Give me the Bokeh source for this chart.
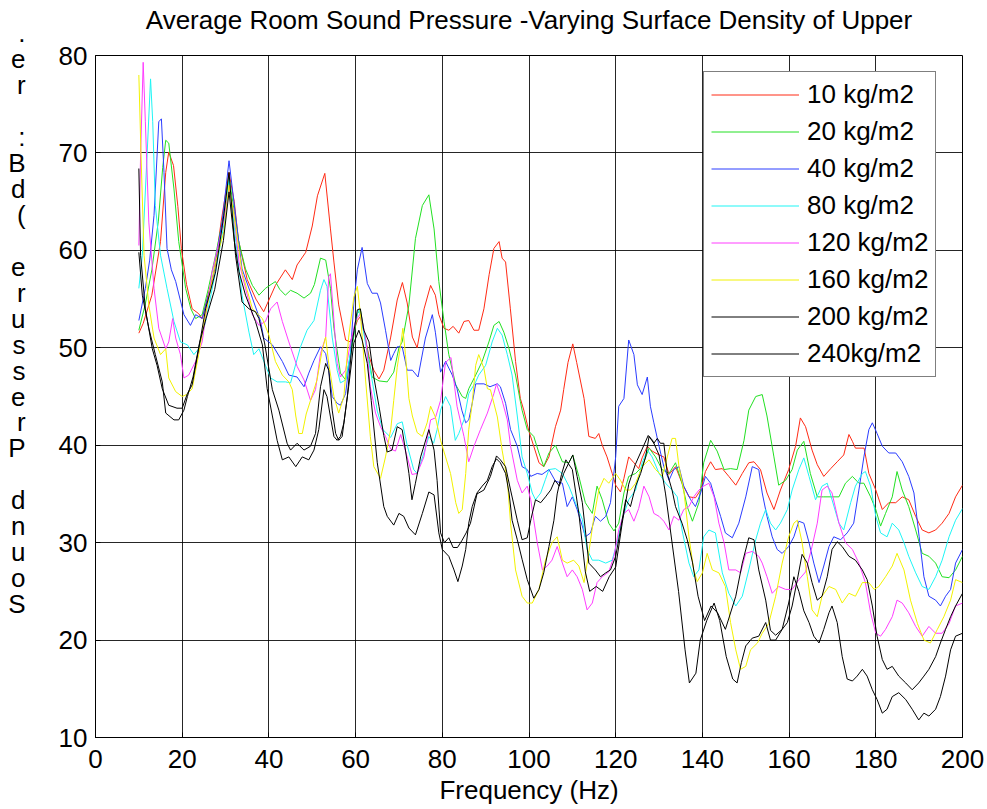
from bokeh.plotting import figure
from bokeh.models import Range1d, FixedTicker
from bokeh.embed import file_html
from bokeh.resources import INLINE

FONT = "Liberation Sans"

title_text = "Average Room Sound Pressure -Varying Surface Density of Upper"
xlabel_text = "Frequency (Hz)"
ylabel_chars = [".", "e", "r", " ", ":", "B", "d", "(", " ", "e", "r", "u", "s", "s",
                "e", "r", "P", " ", "d", "n", "u", "o", "S"]
x_ticks = [0, 20, 40, 60, 80, 100, 120, 140, 160, 180, 200]
y_ticks = [10, 20, 30, 40, 50, 60, 70, 80]
legend_names = ["10 kg/m2", "20 kg/m2", "40 kg/m2", "80 kg/m2", "120 kg/m2",
                "160 kg/m2", "200 kg/m2", "240kg/m2"]

# (frequency Hz, sound pressure dB)
spl_10 = [(10,51.5),(11,52.5),(13,55.4),(15,60.9),(16.2,68),(16.9,70.1),(18,68.7),(19,64.5),(19.8,60.2),(21,56.5),
          (22.3,54),(23.8,53.5),(24.6,53),(26,55.5),(27.5,58),(29,63),(30.8,68),(32,65),(33,61),(35,57),
          (37,55),(38.8,53.7),(39.6,54.5),(41.5,56.4),(43.8,58),(45.4,57),(46.5,58.5),(48.5,59.8),(50,62.5),(51.2,65.6),
          (52.9,67.9),(54.2,62.2),(55,58.8),(56.1,54.4),(57.7,50.8),(58.8,50.6),(60.4,52.8),(61.1,53.2),(62,51.5),(63.1,49.1),
          (64.2,47.7),(65.4,46.8),(66.5,47.7),(68.1,51.1),(69.6,54.9),(70.8,56.7),(71.9,54.6),(73.1,51.1),(74.2,50),(75.8,54),
          (77.3,56.4),(78.4,55.4),(79.2,53.4),(80.4,52),(81.5,51.8),(82.5,52.2),(83.8,51.5),(85,52.7),(86.1,52.8),(87.3,51.8),
          (88.4,51.8),(89.6,54),(90.8,57.5),(91.9,60.2),(93.1,60.9),(93.8,59.2),(94.6,58.8),(95.7,54),(96.9,48.6),(98,44.8),
          (98.8,43.6),(100,41.4),(101.1,39.9),(102.3,38.2),(103.4,37.8),(104.6,38.8),(106.1,41.9),(107.3,43.6),(108,45.7),(109,48.5),
          (110.1,50.4),(111,48.5),(112.7,44.8),(113.8,40.9),(115.3,40.7),(116.1,41.2),(116.9,40),(118,38.8),(119.2,37.1),(120,35.9),
          (121.1,35.2),(121.9,36.6),(123,38.8),(124.2,38.2),(125.3,37.6),(126.1,38.7),(127.3,39.9),(128.4,39.4),(130,39),(131.1,38.8),
          (132.3,37),(133.8,37.8),(135.3,36.1),(136.9,34.7),(138.4,34.6),(139.6,35.4),(140.7,37.3),(141.9,38.3),(143,37.5),(144.6,37.6),
          (146.1,36.8),(147.7,35.9),(149.2,37.1),(150.7,38.2),(151.9,38.3),(153.4,37.5),(154.9,35.1),(156.5,33.4),(158,35.4),(159.9,37.5),
          (161.5,39.9),(162.6,42.8),(163.8,41.9),(165.3,39.5),(166.5,38),(168,36.8),(169.6,37.6),(171.1,38.3),(172.6,39),(173.8,41.1),
          (174.6,40.4),(175.3,39.7),(177.3,39.7),(178.4,37.1),(180,35.4),(181.5,33.4),(183,34.1),(184.6,34.1),(186.1,34.7),(187.6,34.4),
          (189.2,32.7),(190.7,31.3),(192.25,31),(193.8,31.3),(195.3,32),(196.9,33),(198.4,34.7),(200,35.9)]

spl_20 = [(10,51.8),(11.5,54.5),(13,58),(14.5,63),(15.5,68.5),(16.2,71.3),(16.9,71),(18.1,66.3),(19.2,60.9),(20.8,56.1),
          (22,54),(23.1,53),(24.6,53.4),(26,56),(27.7,59.5),(29.5,63.5),(30.8,67.5),(32,64),(33,61),(34.6,58.1),
          (36.2,56.4),(37.7,55.4),(39.2,56.1),(40.5,56.5),(41.5,56.8),(42.5,56),(43.8,55.4),(45,55.9),(46.5,55.6),(48.1,55.1),
          (49.6,55.6),(50.5,56.5),(51.9,59.2),(53.1,59),(54.2,56.1),(55,52),(56.5,47.4),(57.7,46.7),(59.2,50.1),(60.4,53.5),
          (61.1,53.9),(62.3,50.8),(63.8,47),(65.4,46.6),(67.3,46.5),(68.8,47.5),(70,50),(70.75,50.6),(72.3,54.4),(73.8,61.2),
          (75.4,64.6),(76.9,65.7),(78.1,62.2),(79.2,56.8),(80.4,52.7),(81.5,49.3),(83.1,46.2),(84.6,45),(85.4,44.8),(86.1,45.8),
          (87.7,47.2),(89.2,48.6),(90.75,50.6),(91.9,52.3),(93.1,52.7),(94.2,51.6),(95.4,49.9),(96.9,47.2),(98,44.5),(98.4,43.6),
          (99.6,41.6),(101.1,40.9),(102.3,39.2),(103.4,37.8),(104.6,39.2),(106.1,40),(107.7,38.3),(109.2,38.2),(110.1,39),(111.5,36.8),
          (113,34.1),(114.6,33),(115.7,35.8),(116.9,34.4),(118.4,32),(119.6,31.2),(120.7,32),(121.9,35.1),(123,36.8),(124.6,37.1),
          (126.1,37.8),(127.7,39.7),(129.2,38.8),(130.7,37.5),(132.3,37.1),(133.8,38.2),(135.3,36.1),(136.5,33.7),(137.7,32.2),(139.2,34.1),
          (140.3,38.2),(141.9,40.5),(143.4,39.4),(145,37.5),(146.5,37.6),(148,37.5),(149.6,40.5),(150.7,43.6),(152.3,45),(153.8,45.2),
          (154.9,43),(156.5,38.8),(157.6,35.9),(159.2,36.4),(160.7,37.5),(161.9,39.5),(163.4,40.4),(164.9,37.1),(166.5,34.7),(168,34.7),
          (169.9,34.7),(171.5,34.7),(173,36.1),(174.6,36.8),(176.1,36.1),(177.25,36.1),(178.8,34.7),(180,33.4),(181.1,31.7),(182.25,33),
          (183.8,34.7),(184.9,37.3),(186.1,35.4),(187.6,33.7),(189.2,31.3),(190.7,28.9),(192.25,28.6),(193.8,27.9),(195.3,26.5),(196.9,26.4),
          (198.4,27.2),(200,28.6)]

spl_40 = [(10,52.8),(11.5,56.1),(12.5,59),(13.5,63.6),(14.6,73.2),(15.2,73.5),(15.8,68),(16.5,60.2),(17.5,58),(18.5,56.8),
          (20.4,53.4),(21.9,52.3),(23.1,53.4),(24.6,53),(26.9,56.8),(29.2,62.9),(30.8,69.2),(32.3,63.6),(33.8,58.1),(36.2,55.1),
          (38.1,52.7),(38.8,51),(40.8,50.3),(43.1,48.6),(44.6,47.2),(46.5,47),(48.1,46),(49.2,47.4),(50.4,48.7),(51.9,50.1),
          (53.1,49.4),(53.8,47.7),(54.6,45),(55.75,44.3),(56.5,44.1),(57.7,45.3),(58.8,49.4),(59.6,54.6),(60.4,58),(61.5,60.3),
          (62.7,56.6),(63.8,55.6),(65,55.6),(65.75,54.6),(66.9,51.8),(68.1,48.7),(68.8,49.4),(69.6,50.1),(70.75,50.1),(71.9,47.7),
          (73.1,47.7),(74.4,47),(76.1,51),(77.7,53.4),(78.4,51.6),(79.6,47.5),(80.75,48.6),(82.3,47.2),(83.4,45.8),(84.5,43.6),
          (85.4,42.3),(86.1,42.6),(86.9,44.3),(87.7,46.3),(89.6,46.3),(91,46),(92.7,46.3),(93.4,46),(94.6,44.3),(95.75,41.6),
          (97.3,39.9),(98.4,37.8),(99.6,37.5),(100.4,36.8),(101.9,37.1),(103,37),(104.6,37.5),(106.1,36.3),(107.7,36.1),(108.8,33.7),
          (110,34.7),(111.1,33.4),(112.3,31.7),(113,30.6),(114.2,31),(115.3,32.7),(116.5,32.2),(117.7,32.7),(118.8,34.1),(120,38.8),
          (120.7,44),(121.9,44.8),(123,50.8),(124.2,49.3),(125,46.2),(126.1,45.2),(127.3,47),(128,44),(128.8,42.3),(130,39.9),
          (131.1,37.8),(132.3,36.4),(133.4,37.5),(134.6,37.8),(135.7,35.8),(137.3,34.4),(138.4,33.7),(139.6,35.1),(140.7,36.8),(141.9,36.1),
          (143,34.4),(144.2,32.7),(145.3,31),(146.9,30.5),(148.4,32),(150,34.7),(151.5,37.8),(153,37.5),(153.8,35.1),(154.9,32.7),
          (156.1,30.6),(157.25,29.3),(158.4,28.9),(159.9,29.6),(161.1,30.6),(162.25,32.2),(163.4,32),(164.6,30),(165.7,27.9),(166.9,25.9),
          (168,27.6),(169.2,29.6),(170.3,30.6),(171.9,30.3),(173.4,31),(174.9,32),(176.1,35.4),(177.25,38.8),(178.4,41.6),(179.2,42.3),
          (180.3,41.2),(181.5,39.9),(183,39.2),(184.6,39.2),(186.1,38.3),(187.6,36.8),(188.8,35.1),(190,30.6),(191.1,26.5),(192.25,24.5),
          (193.8,24.1),(194.9,23.5),(196.1,24.5),(197.25,25.2),(198.4,27.9),(200,29.3)]

spl_80 = [(10,56.1),(10.8,59.5),(11.9,69.8),(12.7,77.6),(13.2,73.2),(13.8,64.6),(15,59.5),(16.5,56.1),(18.1,52.7),(19.6,50.6),
          (21.2,50.3),(22.7,49.3),(23.8,49.9),(25.4,52.7),(27.7,57.8),(29.6,62.6),(30.8,67.4),(32.3,61.2),(33.8,55.4),(35.4,51.6),
          (36.5,49.3),(37.7,49.9),(39.2,48.2),(40.4,46.9),(41.9,46.5),(43.8,46.5),(45,46.4),(47.3,50.1),(48.8,51.8),(50.4,52.8),
          (51.9,55.9),(52.7,57),(53.4,56.3),(54.6,51.1),(55.75,47.7),(56.5,46.4),(57.7,46.7),(58.8,49.4),(60,52.8),(60.75,54),
          (61.5,52.5),(62.7,49.4),(63.8,46.7),(65,43.5),(66.3,41.6),(68.1,40.8),(69.6,42.2),(70.75,42.4),(71.9,40),(73.4,37.5),
          (74.2,37.1),(75.75,39.2),(76.9,40.9),(78,40.2),(78.8,41.6),(79.6,43.6),(80.75,45),(81.9,44),(83,40.5),(83.8,41.2),
          (85,42.6),(86.1,45.3),(87.7,46.5),(88.4,47.2),(90,48.2),(91.5,50.6),(92.7,52),(93.8,51.3),(95,49.3),(96.1,47.2),
          (97.3,43),(98.4,38.8),(99.6,37.1),(100.75,35.1),(101.5,34.4),(102.7,35.1),(103.8,36.5),(104.6,37.5),(106.1,37.6),(107.7,37.1),
          (109.2,35.8),(110.7,34.1),(112.3,32.4),(113.4,29.3),(114.6,28.2),(116.1,28.2),(117.7,27.9),(119.2,28.2),(120.3,30),(121.5,32.4),
          (123,34.4),(124.6,35.4),(126.1,38.2),(127.3,39.5),(128.4,38.8),(130,37.1),(131.5,36.1),(133,35.4),(134.2,34.7),(135.3,31.3),
          (136.9,27.9),(138,26.5),(139.2,27.2),(140.3,30.6),(141.5,31.3),(143,31),(144.6,26.9),(146.1,24.8),(147.7,23.5),(149.2,24.5),
          (150.7,27.2),(152.3,30.3),(153.4,32),(154.6,33.4),(155.7,32),(156.9,31.3),(158,32),(159.6,33.4),(160.7,35.4),(162.25,37.5),
          (163.4,38.7),(164.6,36.8),(166.1,34.4),(167.6,35.8),(168.8,36.1),(169.9,34.4),(171.5,32),(172.6,31.3),(174.2,34.1),(175.3,35.8),
          (176.9,37.1),(177.6,37.3),(178.8,35.8),(180,32.7),(181.1,31),(182.6,30.6),(183.8,32),(185.3,31.3),(186.5,30),(187.6,28.6),
          (189.2,26.9),(190.7,25.5),(192.25,25.2),(193.8,26.5),(195.3,28.2),(196.9,30.6),(198.4,32.3),(200,33.5)]

spl_120 = [(10,60.5),(10.4,69.8),(11,79.3),(11.5,73.2),(12.3,62.9),(13.5,56.1),(14.6,52),(16.2,49.9),(16.9,50.6),(17.8,53),
           (18.5,51),(19.6,49.3),(20.4,46.9),(21.5,47.2),(23.1,48.6),(24.6,50.6),(26.9,57.8),(29.2,62.2),(30.8,66.3),(31.9,63.9),
           (33.1,58.8),(34.6,56.1),(36.2,53.4),(37.7,52.3),(39.2,52.7),(40.4,54),(41.9,54.7),(43.1,52.7),(44.6,50.6),(46.5,48.1),
           (48.1,46.7),(49.6,44.6),(50.75,45.7),(51.9,49.4),(53.1,51.1),(53.8,57.3),(54.2,57.6),(55,52.8),(55.75,48.4),(56.5,47),
           (57.7,47.7),(58.8,50.5),(60,52.8),(61.1,53.5),(62.3,51.1),(63.4,46),(64.6,43.3),(65.75,41.9),(66.9,40.9),(68.1,39.6),
           (69.2,39.4),(70.4,41.1),(71.9,38.8),(73,37),(74.2,37.1),(75.75,38.8),(77.3,42.6),(78.4,42.8),(79.6,44.6),(80.75,48.5),
           (82,49),(83.4,44),(85,40.9),(86.1,38.3),(87.3,39.9),(88.8,41.6),(90.4,43.3),(91.9,45.3),(92.5,46.3),(93.8,44.6),
           (95,42.6),(95.75,39.9),(97.3,36.4),(98.4,35.1),(99.6,35.8),(100.4,34.4),(101.1,32.3),(101.9,30),(103.1,27.2),(104.2,27.6),
           (105.3,28.2),(106.5,29.6),(107.7,27.9),(108.8,26.5),(110,27.2),(111.1,26.5),(112.3,25.2),(113.4,23.1),(114.6,23.8),(115.7,25.9),
           (116.9,26.5),(118.4,27),(119.6,28.6),(120.7,31.3),(121.9,33),(123,33.4),(124.2,32.2),(125.3,33.5),(126.5,35.8),(127.7,34.7),
           (128.8,33),(130,32.7),(131.1,32.2),(132.3,31.3),(133.4,32.7),(134.6,32.3),(135.7,33.4),(136.9,33.7),(138,34.7),(139.2,35.4),
           (140.3,35.8),(141.5,36.1),(142.7,34.7),(143.8,32),(145,30),(146.1,27.2),(147.7,27.2),(148.8,26.9),(150,28.9),(151.5,29.1),
           (153,28.6),(153.8,27.9),(154.9,26.5),(156.1,24.8),(157.6,25.5),(159.2,25.2),(160.7,25.2),(162.25,26.2),(163.8,27),(165.3,29.6),
           (166.5,32),(167.6,35.4),(168.8,35.8),(169.9,35.1),(171.5,32),(173,30),(174.6,29.3),(176.1,27.9),(177.6,25.9),(178.8,22.8),
           (180,20.7),(181.1,20.4),(182.25,21.1),(183.8,22.4),(184.9,24.1),(186.1,23.8),(187.6,22.8),(189.2,21.4),(190.7,20.4),(192.25,21.4),
           (193.8,20.7),(195.3,20.7),(196.9,21.7),(198.4,23.5),(200,23.8)]

spl_160 = [(10,78),(10.5,69.8),(11.2,59.5),(12.3,54.4),(13.5,51),(15,49.3),(16.2,49.9),(16.9,46.9),(18.5,45.5),(20,45),
           (21,45.2),(22.3,45.8),(23.8,49.3),(25.4,53.4),(27.7,58.8),(29.6,61.9),(30.8,66.7),(32.3,62.6),(33.8,57.8),(36.2,54),
           (38.5,53),(40,51.3),(41.5,48.6),(43.1,47.2),(44.6,46.5),(45.4,45.7),(46.2,43),(46.9,41.2),(47.7,41.2),(48.6,43.2),
           (49.6,44.6),(51.1,46.7),(52.3,49.8),(53.1,51.1),(53.8,48.4),(55,45),(56.1,43.3),(57.3,45),(58.4,51.1),(59.6,55.2),
           (60.4,56.3),(61.1,53.5),(62.3,46.7),(63.4,40.9),(64.2,37.8),(65.75,36.6),(66.9,38.8),(68.1,41.6),(68.8,44.6),(69.6,48),
           (70.4,50.3),(70.9,52),(71.5,49.3),(72.3,44.8),(73.1,43),(74.2,41.3),(75.4,40.9),(76.5,42.3),(77.3,44),(78.4,42.9),
           (79.6,40.5),(80.75,38.8),(81.9,37.1),(83.1,34.1),(83.8,33),(84.6,33.4),(85.4,37.1),(86.1,41.6),(86.9,44.3),(87.7,48.2),
           (88.4,49.3),(89.6,47.9),(90.4,45.8),(91.1,45.7),(92.7,42.9),(93.8,39.5),(95,36.4),(95.75,32),(96.9,27.2),(98.4,24.5),
           (99.6,23.8),(100.75,23.8),(102.3,25.2),(103.8,28.2),(105.3,30),(106.5,30.6),(107.7,28.2),(108.8,27.9),(110.3,28.2),(111.5,27.6),
           (112.7,25.9),(113.8,29),(115,32.7),(116.1,35.4),(117.3,36.6),(118.4,36.1),(120,37.1),(121.1,36.4),(122.3,35.4),(123.4,35.4),
           (124.6,36.1),(126.1,37.8),(127.7,38.5),(129.2,37.5),(130.75,36.8),(131.9,38.8),(133,40.7),(133.8,40.7),(134.6,37.8),(135.7,35.4),
           (136.9,30.6),(138,27.2),(138.8,26),(140,26.9),(141.1,28.9),(142.3,27.2),(143.8,26.9),(145.3,25.5),(146.5,21.8),(147.7,19),
           (148.8,17),(150,17.3),(151.1,19),(152.7,19.7),(153.8,20.7),(155.3,21.7),(156.9,24.5),(158.4,27.9),(159.9,30.6),(161.1,32),
           (161.9,32.3),(163,30),(164.2,26.5),(165.3,23.1),(166.5,22.4),(167.6,24.5),(169.2,25.5),(170.75,25.2),(172.25,23.8),(173.8,24.8),
           (175.3,24.5),(176.9,25.9),(178.4,25.9),(179.6,25.2),(180.7,25.5),(182.25,26.5),(183.8,27.6),(184.9,28.9),(186.5,27.2),(188,24.1),
           (189.6,21.7),(191.1,20),(192.6,19.7),(194.2,21.1),(195.7,22.4),(197.25,24.1),(198.4,26.2),(200,25.9)]

spl_200 = [(10,68.4),(10.4,59.5),(11.5,54),(13.1,49.9),(14.2,48.2),(15.4,45.8),(16.9,44.1),(18.8,43.8),(20,43.8),(21.2,45.3),
           (22.3,46.2),(23.8,49.9),(25.4,54),(27.7,57.8),(29.6,63.6),(30.8,68),(32.3,59.5),(33.8,54.7),(35.4,54),(36.9,53.7),
           (37.7,53),(39,50.5),(40.8,45.7),(42.3,43.6),(44.2,40.2),(45,39.5),(46.5,40.2),(48.1,39.5),(49.6,39.9),(50.75,41.2),
           (51.9,46),(53.1,48.4),(53.8,47.7),(54.6,43.6),(55.4,41.2),(56.1,40.5),(56.9,40.9),(58.1,45),(59.2,50.5),(60.4,53.9),
           (61.1,54),(61.9,51.8),(63.1,50.6),(64.2,47),(65.4,44),(66.5,41),(67.3,39.3),(68.4,39.5),(69.6,41.9),(70.75,41.6),
           (71.5,39.5),(72.3,37.1),(73,34.4),(73.8,36.1),(75,38.8),(76.9,41.6),(78.1,39.5),(78.8,36.4),(79.6,31),(80.5,30),
           (81.5,30.5),(82.5,29.5),(83.5,29.5),(84.5,30.2),(85.5,31),(86.5,32),(88,35),(89.6,35.4),(91.1,36.8),(92.5,38.9),
           (93.4,38.5),(94.6,37.8),(95.75,35.4),(97.3,32.3),(98.4,30.3),(99.6,30.5),(100.5,32.5),(101.5,34.4),(102.7,34.1),(103.8,34.7),
           (105,35.4),(106,36.4),(107,35.8),(108,37.1),(109.2,38.2),(110.1,39),(111.1,36.8),(112.3,34.1),(113,31.3),(113.8,27.9),
           (115.3,27.2),(116.5,26.5),(117.7,26.9),(118.8,27.2),(120,28.6),(121.1,31.3),(122.3,34.4),(123.4,33.7),(124.6,35.8),(125.75,37.1),
           (126.9,38.8),(127.7,40.9),(128.8,40.2),(129.6,40.7),(130.3,40.2),(131.1,40.2),(131.9,37.1),(133,35.4),(133.8,33.7),(135.3,32),
           (136.5,30.3),(137.7,28),(139,24.5),(140.5,22),(142,23.5),(143.5,22.8),(145.3,21.1),(147.7,24.5),(149.2,27.9),(150.7,30.5),
           (151.9,30.3),(153,27.2),(154.6,24.1),(155.7,21),(156.9,20.5),(158.4,21.1),(159.6,21.8),(160.7,23.5),(161.9,26.2),(163,28.8),
           (164.2,27.9),(165.3,25.9),(166.5,24.1),(167.6,24.5),(168.8,26.5),(169.9,29.3),(171.1,30.1),(172.25,29.6),(173.8,28.6),(175.3,28.2),
           (176.9,27.2),(178,26.2),(179.2,23.5),(180.3,20.4),(181.5,18),(182.6,17),(183.8,17.3),(185.3,16.3),(186.9,15.6),(188.4,14.9),
           (189.9,15.6),(191.1,16.3),(192.25,17),(193.8,18.3),(194.9,19.7),(196.1,21.1),(197.25,22.4),(198.4,23.5),(200,24.8)]

spl_240 = [(10,59.8),(10.8,55.4),(12.3,52),(13.8,49.3),(15.4,46.5),(16.2,43.3),(18.1,42.6),(19.2,42.6),(20.4,43.6),(21.2,45),
           (22.5,47),(24,50.5),(25.5,53),(27.5,56),(29.5,61),(30.8,66),(32,61),(33.1,57.8),(34.6,55.4),(36.9,52.7),
           (38.5,50.3),(39.6,45.8),(40.8,43),(41.9,40.5),(43.1,38.5),(44.6,38.8),(46.2,37.8),(47.7,38.8),(49.2,38.5),(50.4,39.5),
           (51.5,41.6),(52.7,45.7),(53.4,45),(54.2,42.9),(55,40.9),(55.75,40.5),(56.5,40.9),(57.3,42.3),(58.4,46),(59.6,50.5),
           (60.75,51.8),(61.5,50.8),(62.7,48.4),(63.6,44.6),(65,38.2),(66.5,33.7),(67.3,32.7),(68.8,31.8),(70,33),(71.1,32.7),
           (72.3,31.5),(73.8,30.8),(75.4,33),(76.9,35.2),(78.1,34.9),(79.2,31),(80,29.3),(81.5,28.6),(82.7,27.2),(83.6,26),
           (84.6,27.6),(85.4,29.3),(86.1,32),(86.9,33.7),(88,35.1),(89.2,35.8),(90.4,36.4),(91.5,37.8),(92.5,38.6),(93.4,38.2),
           (94.6,37.1),(95.4,35.1),(96.1,32.3),(97.3,30.3),(98.4,28.3),(99.6,26.2),(101.1,24.3),(102.3,25.2),(103.4,26.9),(104.6,29.6),
           (105.75,32.3),(106.5,35),(107.5,37),(108.5,38.5),(110,37.5),(111.5,33),(113,27),(114,25),(115.5,25.5),(117,25),
           (118.5,26.5),(120,27.5),(121.5,32),(123,36),(124.5,38),(126,39.5),(127.5,41),(128.5,40.5),(130,39),(131.5,35),
           (133,30),(134.5,25),(136,19),(137,15.6),(138.5,16.6),(139.5,20),(141,22),(142.7,23.8),(144,22),(145.5,18.3),
           (147,16),(148,15.6),(149,17.7),(150,19.4),(151.5,20.2),(153,20.4),(154.6,21.8),(155.7,20),(156.9,20),(158.4,21.1),
           (159.9,23.8),(161.1,26.5),(162.25,25),(163.4,23),(164.6,21.8),(165.7,20.4),(166.9,19.7),(168,21.1),(169.2,22.8),(169.9,23.5),
           (171.1,21.8),(172.25,18.3),(173.4,16),(174.6,15.8),(175.7,16.3),(176.9,17),(178,16.3),(179.2,14.9),(180.3,13.9),(181.5,12.5),
           (182.6,12.9),(183.8,14.2),(185.3,14.6),(186.9,13.9),(188.4,12.9),(189.9,11.8),(191.1,12.5),(192.25,12.2),(193.8,12.9),(194.9,14.2),
           (196.1,16.3),(197.25,19),(198.4,20.4),(200,20.7)]

series = [spl_10, spl_20, spl_40, spl_80, spl_120, spl_160, spl_200, spl_240]
colors = ["#ff2a14", "#22e022", "#2a3cff", "#1ef5f5", "#ff3cff", "#f2f200", "#000000", "#000000"]

# page geometry of the reference plot box (canvas starts at the page corner)
BOX_L, BOX_R, BOX_T, BOX_B = 95, 962, 55, 738
W, H = 985, 807
FS = "26px"

p = figure(width=W, height=H, output_backend="svg", toolbar_location=None,
           x_range=Range1d(0, 200), y_range=Range1d(10, 80),
           min_border_left=BOX_L, min_border_right=W - BOX_R,
           min_border_top=BOX_T, min_border_bottom=H - BOX_B)
p.outline_line_color = "black"
p.outline_line_width = 1
p.background_fill_color = "white"
p.border_fill_color = "white"

# title with an empty second line so that it sits higher above the box
p.title.text = title_text + "\n\u00a0"
p.title.align = "center"
p.title.text_font = FONT
p.title.text_font_size = FS
p.title.text_font_style = "normal"
p.title.text_color = "black"
p.title.text_line_height = 0.645
p.title.standoff = 3

for ax, ticks in ((p.xaxis, x_ticks), (p.yaxis, y_ticks)):
    ax.ticker = FixedTicker(ticks=ticks)
    ax.major_tick_in = 5
    ax.major_tick_out = 0
    ax.minor_tick_in = 0
    ax.minor_tick_out = 0
    ax.axis_line_color = "black"
    ax.major_tick_line_color = "black"
    ax.major_label_text_font = FONT
    ax.major_label_text_font_size = FS
    ax.major_label_text_color = "black"
    ax.axis_label_text_font = FONT
    ax.axis_label_text_font_size = FS
    ax.axis_label_text_font_style = "normal"
    ax.axis_label_text_color = "black"
p.xaxis.major_label_standoff = 12
p.yaxis.major_label_standoff = 8

p.xaxis.axis_label = xlabel_text
p.xaxis.axis_label_standoff = 4

ylines = [c if c.strip() else "\u00a0" for c in ylabel_chars] + ["\u00a0"] * 6
p.yaxis.axis_label = "\n".join(ylines)
p.yaxis.axis_label_orientation = "horizontal"
p.yaxis.axis_label_text_line_height = 0.865
p.yaxis.axis_label_standoff = 30

p.xgrid.ticker = FixedTicker(ticks=x_ticks)
p.ygrid.ticker = FixedTicker(ticks=y_ticks)
for g in (p.xgrid, p.ygrid):
    g.grid_line_color = "black"
    g.grid_line_alpha = 0.85
    g.grid_line_width = 1

for data, col, name in zip(series, colors, legend_names):
    fx = [d[0] for d in data]
    fy = [d[1] for d in data]
    p.line(fx, fy, line_color=col, line_width=1, legend_label=name)

lg = p.legend[0]
lg.location = (703 - BOX_L, BOX_B - 378)
lg.margin = 0
lg.padding = 7
lg.spacing = 6
lg.glyph_width = 88
lg.glyph_height = 29
lg.label_height = 29
lg.label_standoff = 8
lg.label_text_font = FONT
lg.label_text_font_size = FS
lg.label_text_color = "black"
lg.border_line_color = "black"
lg.border_line_width = 1
lg.background_fill_alpha = 1.0

open("out.html", "w").write(file_html(p, INLINE))
